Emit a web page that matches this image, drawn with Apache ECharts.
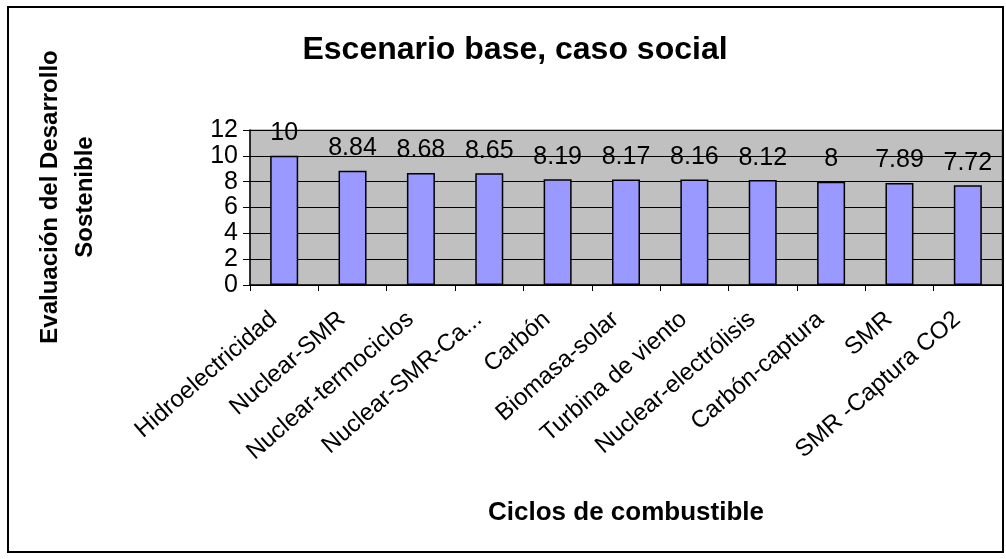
<!DOCTYPE html>
<html>
<head>
<meta charset="utf-8">
<script src="https://cdn.jsdelivr.net/npm/echarts@6/dist/echarts.min.js"></script>
<style>
  html, body { margin: 0; padding: 0; background: #ffffff; }
  #chart { width: 1006px; height: 559px; }
</style>
</head>
<body>
<div id="chart"></div>
<script>
// Fuel cycles and their sustainable-development score (social case)
const categories = [
  'Hidroelectricidad', 'Nuclear-SMR', 'Nuclear-termociclos', 'Nuclear-SMR-Ca...',
  'Carbón', 'Biomasa-solar', 'Turbina de viento', 'Nuclear-electrólisis',
  'Carbón-captura', 'SMR', 'SMR -Captura CO2'
];
const scores = [10, 8.84, 8.68, 8.65, 8.19, 8.17, 8.16, 8.12, 8, 7.89, 7.72];

const chartTitle = 'Escenario base, caso social';
const xAxisTitle = 'Ciclos de combustible';
const yAxisTitle = 'Evaluación del Desarrollo\nSostenible';

const FONT = '"Liberation Sans", Arial, sans-serif';

const chart = echarts.init(document.getElementById('chart'), null, { renderer: 'canvas' });

chart.setOption({
  animation: false,
  backgroundColor: '#ffffff',
  textStyle: { fontFamily: FONT, color: '#000' },
  title: {
    text: chartTitle,
    left: 510,
    top: 29,
    textAlign: 'center',
    textStyle: { fontFamily: FONT, fontSize: 32, fontWeight: 'bold', color: '#000' }
  },
  grid: {
    left: 250,
    right: 4,
    top: 130,
    bottom: 274,
    show: true,
    backgroundColor: '#C0C0C0',
    borderColor: '#808080',
    borderWidth: 1
  },
  xAxis: {
    type: 'category',
    data: categories,
    axisLine: { show: true, lineStyle: { color: '#000', width: 1.5 } },
    axisTick: { show: true, alignWithLabel: false, length: 6, lineStyle: { color: '#000' } },
    axisLabel: {
      interval: 0,
      rotate: 41,
      margin: 22,
      padding: [0, 14, 0, 0],
      fontSize: 24,
      fontFamily: FONT,
      color: '#000'
    },
    splitLine: { show: false }
  },
  yAxis: {
    type: 'value',
    min: 0,
    max: 12,
    interval: 2,
    axisLine: { show: true, lineStyle: { color: '#000', width: 1.5 } },
    axisTick: { show: true, length: 7, lineStyle: { color: '#000' } },
    axisLabel: { fontSize: 25, fontFamily: FONT, color: '#000', margin: 12 },
    splitLine: { show: true, lineStyle: { color: '#000', width: 1 } }
  },
  series: [{
    type: 'bar',
    data: scores,
    barWidth: 28,
    itemStyle: { color: '#9999FF', borderColor: '#000', borderWidth: 1.5 },
    label: {
      show: true,
      position: 'top',
      distance: 10,
      fontSize: 25,
      fontFamily: FONT,
      color: '#000'
    }
  }],
  graphic: [
    {
      type: 'rect',
      shape: { x: 8, y: 7, width: 995, height: 545 },
      style: { fill: 'none', stroke: '#000', lineWidth: 2 },
      silent: true,
      z: 100
    },
    {
      type: 'text',
      x: 68,
      y: 197,
      rotation: Math.PI / 2,
      style: {
        text: yAxisTitle,
        font: 'bold 24px ' + FONT,
        fill: '#000',
        align: 'center',
        verticalAlign: 'middle',
        lineHeight: 35
      }
    },
    {
      type: 'text',
      x: 626,
      y: 513,
      style: {
        text: xAxisTitle,
        font: 'bold 26px ' + FONT,
        fill: '#000',
        align: 'center',
        verticalAlign: 'middle'
      }
    }
  ]
});
</script>
</body>
</html>
